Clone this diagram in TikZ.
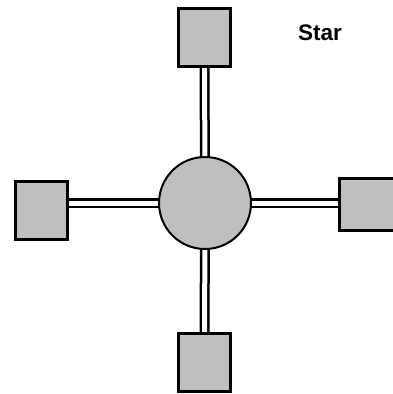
\documentclass[tikz,border=0pt]{standalone}
\usepackage{fontspec}
\setmainfont{Liberation Sans}
\begin{document}
\begin{tikzpicture}[x=1pt,y=-1pt,
  dev/.style={draw=black, line width=3pt, fill=gray!50!white, minimum width=52pt, minimum height=58pt, inner sep=0pt, rectangle},
  hub/.style={draw=black, line width=2pt, fill=gray!50!white, circle, minimum size=92pt, inner sep=0pt},
  link/.style={draw=black, line width=2.5pt, double=white, double distance=5pt}]
\useasboundingbox (0,0) rectangle (393,394);
\fill[white] (0,0) rectangle (393,394);
\node[hub] (h) at (205,203) {};
\node[dev] (t) at (204.5,37.5) {};
\node[dev] (l) at (41,210) {};
\node[dev, minimum width=62pt, minimum height=52pt] (r) at (370,204) {};
\node[dev] (b) at (204.5,362.5) {};
\draw[link] (h) -- (t);
\draw[link] (h) -- (b);
\draw[link] (h) -- (l.east |- h);
\draw[link] (h) -- (r.west |- h);
\node[font=\bfseries\fontsize{22.5}{24}\selectfont, anchor=base west, inner sep=0pt] (s) at (298,40) {Star};
\end{tikzpicture}
\end{document}
